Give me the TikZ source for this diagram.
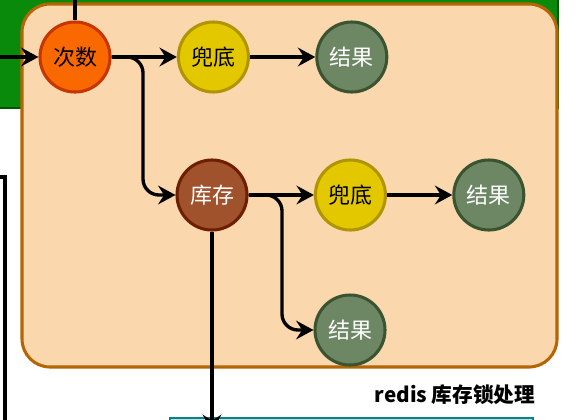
\documentclass[tikz,border=0pt]{standalone}
\usepackage{fontspec}
\newfontfamily\cjk{Noto Sans CJK SC}
\usetikzlibrary{positioning,arrows.meta}

\definecolor{outerfill}{HTML}{0A8A0A}
\definecolor{outerline}{HTML}{005700}
\definecolor{grpfill}{HTML}{FAD7AC}
\definecolor{grpline}{HTML}{B46504}
\definecolor{cntfill}{HTML}{FA6800}
\definecolor{cntline}{HTML}{C73500}
\definecolor{fbfill}{HTML}{E3C800}
\definecolor{fbline}{HTML}{B09500}
\definecolor{resfill}{HTML}{6D8764}
\definecolor{resline}{HTML}{3A5431}
\definecolor{stkfill}{HTML}{A0522D}
\definecolor{stkline}{HTML}{6D1F00}
\definecolor{nextfill}{HTML}{B0E3E6}
\definecolor{nextline}{HTML}{0E8088}

\begin{document}
\begin{tikzpicture}[
			x=0.75pt, y=-0.75pt,
			node distance=49pt,
			ball/.style={draw, circle, line width=2.3pt, minimum size=52.5pt, inner sep=0pt, font=\cjk\fontsize{16.5}{19}\selectfont},
			cnt/.style={ball, fill=cntfill, draw=cntline},
			fallback/.style={ball, fill=fbfill, draw=fbline},
			result/.style={ball, fill=resfill, draw=resline, text=white},
			stock/.style={ball, fill=stkfill, draw=stkline, text=white},
			arrow/.style={-{Stealth[length=13pt, width=14pt, inset=4.5pt]}, line width=2.5pt},
			link/.style={line width=2.5pt},
			curvearrow/.style={arrow, rounded corners=12pt}
			]
			\useasboundingbox (0,0) rectangle (581,419);
			\clip (0,0) rectangle (581,419);
			
			% Rahmen
			\draw[fill=outerfill, draw=outerline, line width=1.5pt] (-10,-10) rectangle (558,108);
			\draw[line width=2.3pt] (-10,177) -- (5,177) -- (5,430);
			\draw[fill=nextfill, draw=nextline, line width=1.5pt] (170,418) rectangle (533,440);
			\draw[fill=grpfill, draw=grpline, line width=2.3pt, rounded corners=21pt] (22,4) rectangle (557,367);
			
			% Knoten
			\node[cnt] (count) at (75,57) {次数};
			\node[fallback, right=of count] (fb1) {兜底};
			\node[result, right=of fb1] (res1) {结果};
			\node[stock] (stock) at (212,195) {库存};
			\node[fallback, right=of stock] (fb2) {兜底};
			\node[result, right=of fb2] (res2) {结果};
			\node[result] (res3) at (350,330) {结果};
			\node[font=\cjk\bfseries\fontsize{15.5}{18}\selectfont] (title) at (455,395) {redis 库存锁处理};
			
			\coordinate (top) at (count.north |- 0,-5);
			\coordinate (left) at (-5,57);
			\coordinate (down) at (stock.south |- 0,432);
			
			% Pfeile
			\draw[link] (top) -- (count.north);
			\draw[arrow] (left) -- (count.west);
			\draw[arrow] (count) -- (fb1);
			\draw[arrow] (fb1) -- (res1);
			\draw[curvearrow] (count.east) -- (143,57) -- (143,195) -- (stock.west);
			\draw[arrow] (stock) -- (fb2);
			\draw[arrow] (fb2) -- (res2);
			\draw[curvearrow] (stock.east) -- (282,195) -- (282,330) -- (res3.west);
			\draw[arrow] (stock.south) -- (down);
		\end{tikzpicture}
\end{document}
